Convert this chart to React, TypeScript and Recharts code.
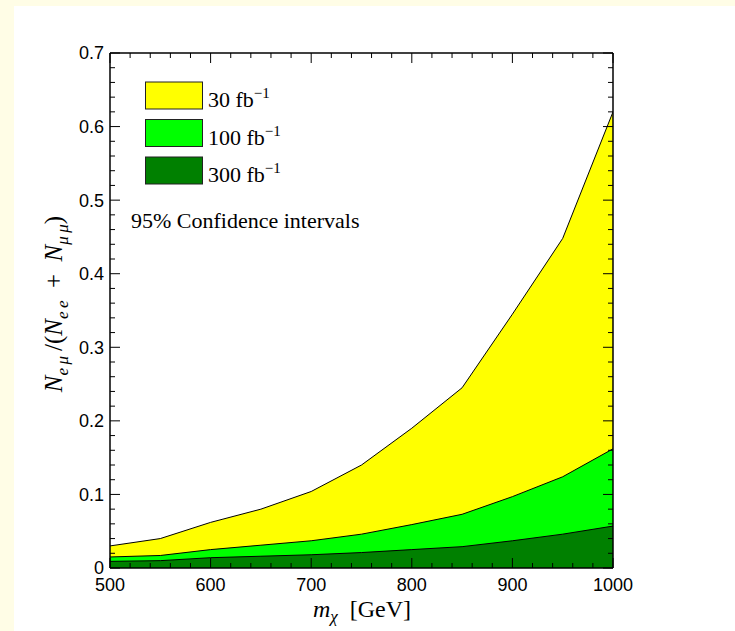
import React from "react";
import { Area, AreaChart, XAxis, YAxis } from "recharts";

// dark-matter mass points (GeV)
const masses = [500, 550, 600, 650, 700, 750, 800, 850, 900, 950, 1000];

// upper edge of the 95% CL interval for each luminosity
const lumi30 = [0.03, 0.04, 0.062, 0.08, 0.104, 0.14, 0.19, 0.245, 0.345, 0.448, 0.62];
const lumi100 = [0.015, 0.017, 0.025, 0.031, 0.037, 0.046, 0.059, 0.073, 0.097, 0.124, 0.162];
const lumi300 = [0.009, 0.01, 0.014, 0.016, 0.018, 0.021, 0.025, 0.029, 0.037, 0.046, 0.057];

const seriesNames = ["30", "100", "300"];
const seriesColors = ["#ffff00", "#00ff00", "#008000"];

const xMajorTicks = [500, 600, 700, 800, 900, 1000];
const xMinorTicks = [
  520, 540, 560, 580, 620, 640, 660, 680, 720, 740, 760, 780,
  820, 840, 860, 880, 920, 940, 960, 980,
];
const yMajorTicks = [0, 0.1, 0.2, 0.3, 0.4, 0.5, 0.6, 0.7];
const yMinorTicks = [
  0.02, 0.04, 0.06, 0.08, 0.12, 0.14, 0.16, 0.18, 0.22, 0.24, 0.26, 0.28,
  0.32, 0.34, 0.36, 0.38, 0.42, 0.44, 0.46, 0.48, 0.52, 0.54, 0.56, 0.58,
  0.62, 0.64, 0.66, 0.68,
];

const xTicks = [...xMajorTicks, ...xMinorTicks].sort((a, b) => a - b);
const yTicks = [...yMajorTicks, ...yMinorTicks].sort((a, b) => a - b);

const data = masses.map((m, i) => ({
  mass: m,
  l30: lumi30[i],
  l100: lumi100[i],
  l300: lumi300[i],
}));

const W = 735;
const H = 631;
const MAJOR = 10;
const MINOR = 5;
const sans = "'Liberation Sans', Arial, sans-serif";
const serif = "'Liberation Serif', 'Times New Roman', serif";

const BottomTick = (props: any) => {
  const { x, y, payload } = props;
  const major = xMajorTicks.includes(payload.value);
  return (
    <g>
      <line x1={x} x2={x} y1={y} y2={y - (major ? MAJOR : MINOR)} stroke="#000" strokeWidth={1} />
      {major && (
        <text x={x} y={y + 23} textAnchor="middle" fontFamily={sans} fontSize={18} fill="#000">
          {payload.value}
        </text>
      )}
    </g>
  );
};

const TopTick = (props: any) => {
  const { x, y, payload } = props;
  const major = xMajorTicks.includes(payload.value);
  return <line x1={x} x2={x} y1={y} y2={y + (major ? MAJOR : MINOR)} stroke="#000" strokeWidth={1} />;
};

const LeftTick = (props: any) => {
  const { x, y, payload } = props;
  const major = yMajorTicks.includes(payload.value);
  return (
    <g>
      <line x1={x} x2={x + (major ? MAJOR : MINOR)} y1={y} y2={y} stroke="#000" strokeWidth={1} />
      {major && (
        <text x={x - 6} y={y} dy="0.36em" textAnchor="end" fontFamily={sans} fontSize={18} fill="#000">
          {String(payload.value)}
        </text>
      )}
    </g>
  );
};

const RightTick = (props: any) => {
  const { x, y, payload } = props;
  const major = yMajorTicks.includes(payload.value);
  return <line x1={x} x2={x - (major ? MAJOR : MINOR)} y1={y} y2={y} stroke="#000" strokeWidth={1} />;
};

const axisLine = { stroke: "#000", strokeWidth: 1.5 };

function Overlay() {
  return (
    <svg width={W} height={H} style={{ position: "absolute", left: 0, top: 0, pointerEvents: "none" }}>
      {seriesNames.map((name, i) => {
        const top = 82 + i * 37.5;
        return (
          <g key={name}>
            <rect x={145.5} y={top} width={57} height={27} fill={seriesColors[i]} stroke="#222" strokeWidth={1} />
            <text x={208} y={top + 25} fontFamily={serif} fontSize={22} fill="#000">
              {name} fb
              <tspan dy={-9} fontSize={15}>−1</tspan>
            </text>
          </g>
        );
      })}
      <text x={131} y={228} fontFamily={serif} fontSize={22} fill="#000">
        95% Confidence intervals
      </text>
      <text x={362} y={617} textAnchor="middle" fontFamily={serif} fontSize={24} fill="#000">
        <tspan fontStyle="italic">m</tspan>
        <tspan fontStyle="italic" fontSize={17} dy={5}>χ</tspan>
        <tspan dy={-5}>{"\u00a0\u00a0[GeV]"}</tspan>
      </text>
      <text
        x={0}
        y={0}
        transform="translate(62,304) rotate(-90)"
        textAnchor="middle"
        fontFamily={serif}
        fontSize={25}
        fill="#000"
      >
        <tspan fontStyle="italic">N</tspan>
        <tspan fontStyle="italic" fontSize={17} dy={6}>{"e\u2009μ"}</tspan>
        <tspan dy={-6}>{"\u2009/("}</tspan>
        <tspan fontStyle="italic">N</tspan>
        <tspan fontStyle="italic" fontSize={17} dy={6}>{"e\u2009e"}</tspan>
        <tspan dy={-6}>{"\u00a0\u00a0+\u00a0\u00a0"}</tspan>
        <tspan fontStyle="italic">N</tspan>
        <tspan fontStyle="italic" fontSize={17} dy={6}>{"μ\u2009μ"}</tspan>
        <tspan dy={-6}>)</tspan>
      </text>
    </svg>
  );
}

export default function App() {
  return (
    <div style={{ position: "fixed", left: 0, top: 0, width: W, height: H, background: "#fffde6", overflow: "hidden" }}>
      <div style={{ position: "absolute", left: 14, top: 6, right: 0, bottom: 0, background: "#fff" }} />
      <div style={{ position: "absolute", left: 0, top: 0 }}>
        <AreaChart width={W} height={H} data={data} margin={{ top: 43, right: 112, bottom: 33, left: 70 }}>
          <XAxis
            dataKey="mass"
            type="number"
            domain={[500, 1000]}
            ticks={xTicks}
            interval={0}
            allowDataOverflow
            height={30}
            tickSize={0}
            tickMargin={0}
            tickLine={false}
            axisLine={axisLine}
            tick={<BottomTick />}
          />
          <XAxis
            xAxisId="top"
            orientation="top"
            dataKey="mass"
            type="number"
            domain={[500, 1000]}
            ticks={xTicks}
            interval={0}
            allowDataOverflow
            height={10}
            tickSize={0}
            tickMargin={0}
            tickLine={false}
            axisLine={axisLine}
            tick={<TopTick />}
          />
          <YAxis
            type="number"
            domain={[0, 0.7]}
            ticks={yTicks}
            interval={0}
            allowDataOverflow
            width={40}
            tickSize={0}
            tickMargin={0}
            tickLine={false}
            axisLine={axisLine}
            tick={<LeftTick />}
          />
          <YAxis
            yAxisId="right"
            orientation="right"
            type="number"
            domain={[0, 0.7]}
            ticks={yTicks}
            interval={0}
            allowDataOverflow
            width={10}
            tickSize={0}
            tickMargin={0}
            tickLine={false}
            axisLine={axisLine}
            tick={<RightTick />}
          />
          <Area type="linear" dataKey="l30" stroke="#000" strokeWidth={1} fill={seriesColors[0]} fillOpacity={1} dot={false} activeDot={false} isAnimationActive={false} />
          <Area type="linear" dataKey="l100" stroke="#000" strokeWidth={1} fill={seriesColors[1]} fillOpacity={1} dot={false} activeDot={false} isAnimationActive={false} />
          <Area type="linear" dataKey="l300" stroke="#000" strokeWidth={1} fill={seriesColors[2]} fillOpacity={1} dot={false} activeDot={false} isAnimationActive={false} />
        </AreaChart>
      </div>
      <Overlay />
    </div>
  );
}
